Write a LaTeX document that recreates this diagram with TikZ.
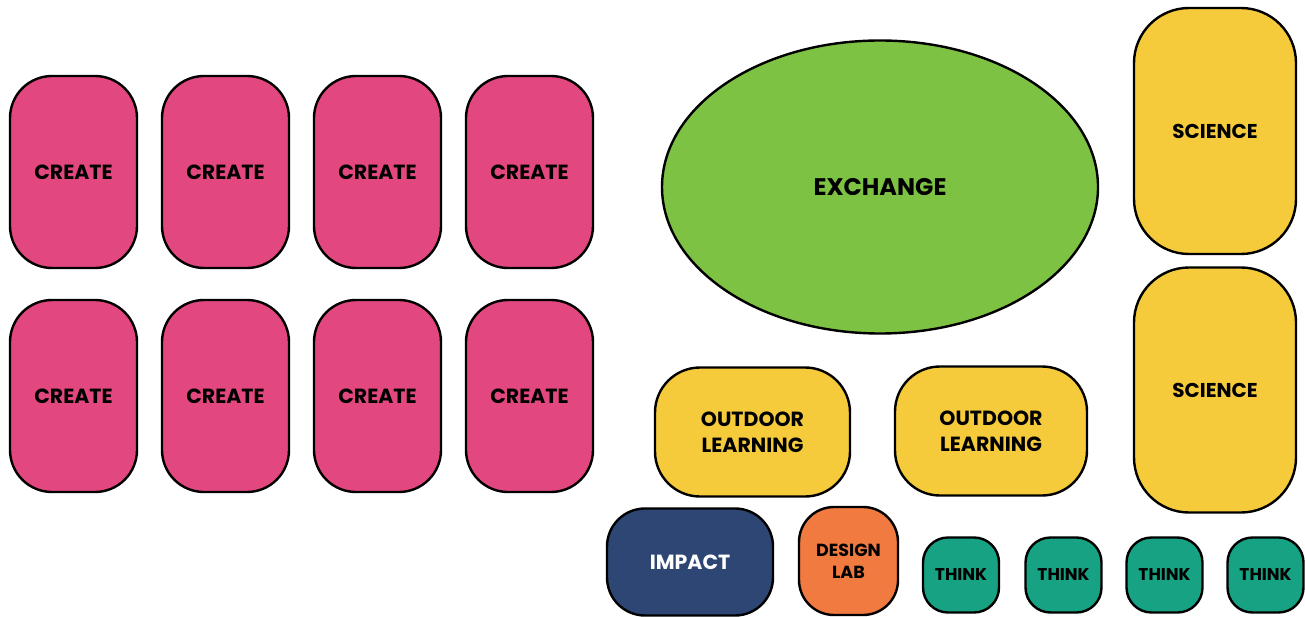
\documentclass[tikz,border=0pt]{standalone}
\usepackage{fontspec}
\usetikzlibrary{shapes.geometric}
\setmainfont{Poppins}
\definecolor{createpink}{HTML}{E2477F}
\definecolor{exchgreen}{HTML}{7DC243}
\definecolor{sunyellow}{HTML}{F5CB3C}
\definecolor{thinkteal}{HTML}{17A283}
\definecolor{impactnavy}{HTML}{2D4673}
\definecolor{laborange}{HTML}{F07A40}
\begin{document}
\begin{tikzpicture}[
  x = 1pt, y = -1pt,
  every node/.style = {draw, line width = 2.4pt, align = center, inner sep = 0pt,
    font = \bfseries\fontsize{20.5}{26}\selectfont},
  zone/.style 2 args = {rectangle, rounded corners = #1, minimum width = #2},
  createbox/.style = {zone = {42pt}{127pt}, minimum height = 192pt, fill = createpink},
  sciencebox/.style = {zone = {55pt}{162pt}, minimum height = 246pt, fill = sunyellow,
    font = \bfseries\fontsize{20}{24}\selectfont},
  outdoorbox/.style = {zone = {45pt}{#1}, minimum height = 129pt, fill = sunyellow,
    font = \bfseries\fontsize{20.5}{26}\selectfont},
  thinkbox/.style = {zone = {25pt}{76pt}, minimum height = 75pt, fill = thinkteal,
    font = \bfseries\fontsize{17}{20}\selectfont}
  ]
  \useasboundingbox (0,0) rectangle (1305,617);
  % create rooms, two rows of four
  \foreach \row/\ypos in {1/172, 2/396}
    \foreach \col/\xpos in {1/73.5, 2/225.5, 3/377.5, 4/529.5}
      \node[createbox] (create\row\col) at (\xpos,\ypos) {CREATE};
  \node[ellipse, minimum width = 436pt, minimum height = 293pt, fill = exchgreen,
    font = \bfseries\fontsize{24}{28}\selectfont] (exchange) at (880,187) {EXCHANGE};
  \node[sciencebox] (science1) at (1215,131) {SCIENCE};
  \node[sciencebox, minimum height = 245pt] (science2) at (1215,390) {SCIENCE};
  \node[outdoorbox = 195pt] (outdoor1) at (752.5,432) {OUTDOOR\\LEARNING};
  \node[outdoorbox = 192pt] (outdoor2) at (991,431) {OUTDOOR\\LEARNING};
  \node[zone = {38pt}{166pt}, minimum height = 107pt, fill = impactnavy,
    text = white] (impact) at (690,562) {IMPACT};
  \node[zone = {35pt}{99pt}, minimum height = 108pt, fill = laborange,
    font = \bfseries\fontsize{17.5}{22}\selectfont] (designlab) at (848.5,561) {DESIGN\\LAB};
  % think pods
  \foreach \n/\xpos in {1/961, 2/1063.5, 3/1164.5, 4/1265.5}
    \node[thinkbox] (think\n) at (\xpos,575) {THINK};
\end{tikzpicture}
\end{document}
